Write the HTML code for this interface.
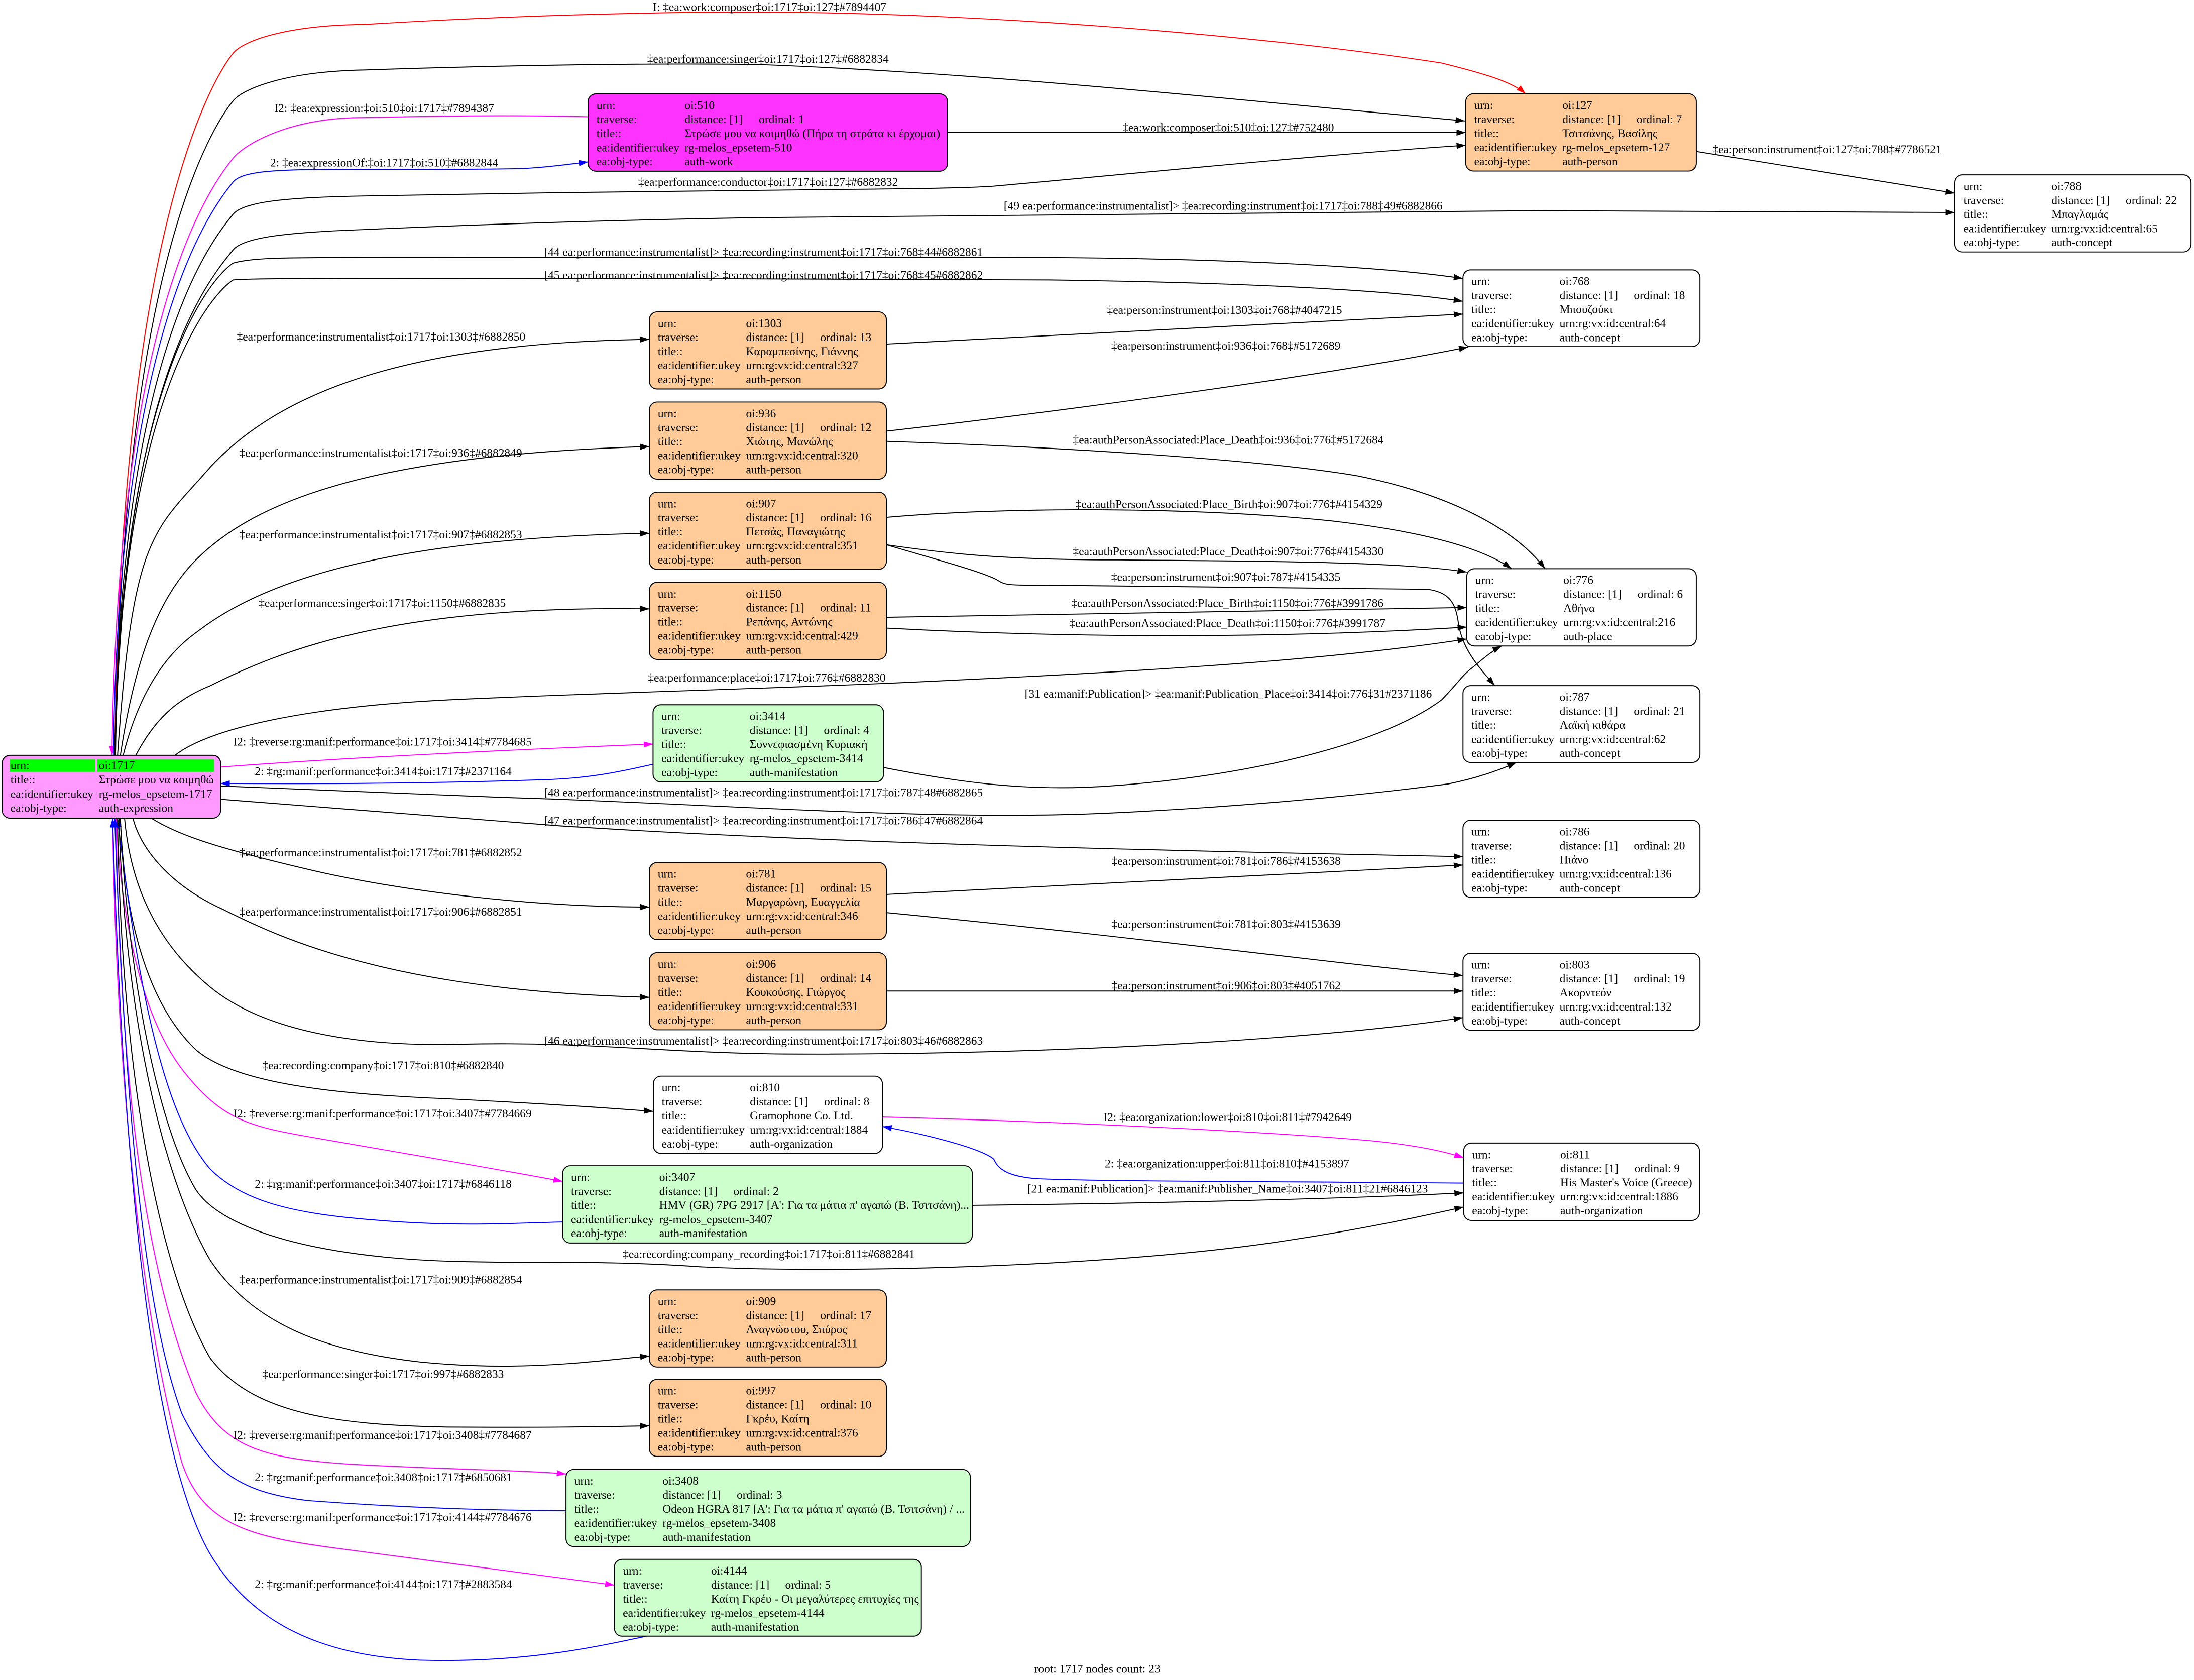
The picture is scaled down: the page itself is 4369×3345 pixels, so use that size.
<!DOCTYPE html>
<html><head><meta charset="utf-8"><style>
html,body{margin:0;padding:0;background:#fff;}
svg{display:block;}
text{font-family:"Liberation Serif","DejaVu Serif",serif;font-size:8.4px;fill:#000;}
.n rect.b{stroke:#000;stroke-width:0.7;}
path.e{fill:none;stroke-width:0.7;}
.k{stroke:#000}.r{stroke:#f00}.m{stroke:#f0f}.u{stroke:#00f}
</style></head><body>
<svg xmlns="http://www.w3.org/2000/svg" width="4369" height="3345" viewBox="0 0 1567.6 1200.2" preserveAspectRatio="none">
<defs>
<marker id="ak" markerUnits="userSpaceOnUse" markerWidth="7" markerHeight="5" viewBox="0 0 7 5" refX="6.6" refY="2.5" orient="auto"><path d="M0,0.3 L6.6,2.5 L0,4.7 z" fill="#000"/></marker>
<marker id="ar" markerUnits="userSpaceOnUse" markerWidth="7" markerHeight="5" viewBox="0 0 7 5" refX="6.6" refY="2.5" orient="auto"><path d="M0,0.3 L6.6,2.5 L0,4.7 z" fill="#f00"/></marker>
<marker id="am" markerUnits="userSpaceOnUse" markerWidth="7" markerHeight="5" viewBox="0 0 7 5" refX="6.6" refY="2.5" orient="auto"><path d="M0,0.3 L6.6,2.5 L0,4.7 z" fill="#f0f"/></marker>
<marker id="au" markerUnits="userSpaceOnUse" markerWidth="7" markerHeight="5" viewBox="0 0 7 5" refX="6.6" refY="2.5" orient="auto"><path d="M0,0.3 L6.6,2.5 L0,4.7 z" fill="#00f"/></marker>
</defs>
<rect x="0" y="0" width="1567.6" height="1200.2" fill="#fff"/>

<!-- ===== EDGES ===== -->
<path class="e r" marker-end="url(#ar)" d="M82,539.6 C86,163.4 152,56 166.6,38 C174,29 205,18 260,17.5 C350,12 450,8.6 540,8.6 C700,9 900,25 1030,45 C1058,52 1080,58 1090,67"/>
<path class="e k" marker-end="url(#ak)" d="M82.5,539.6 C86.5,188.9 152,90 166.6,72 C174,63 205,51 260,50 C350,47 450,45 540,46 C700,52 850,68 1046.6,86.4"/>
<path class="e m" marker-end="url(#am)" d="M420,83.4 C360,82 310,83 260,84 C205,84 174,104 166.6,113 C152,131 84,219.6 80,539.6"/>
<path class="e u" marker-end="url(#au)" d="M81,539.6 C85,232.4 152,148 166.6,130 C174,121 205,121 260,121 C320,121 370,121 380,120 C395,119 405,117.5 420.2,115.7"/>
<path class="e k" marker-end="url(#ak)" d="M82,539.6 C86,249.6 152,171 166.6,153 C174,144 205,141 260,140 C350,138 450,137 540,136 C620,135 680,135 710,133 C800,125 950,110 1047.3,103.8"/>
<path class="e k" marker-end="url(#ak)" d="M82.5,539.6 C86.5,268.8 152,196.5 166.6,178.5 C174,169.5 205,166 260,164 C350,160 450,157 540,155.5 C700,153 900,151 1100,150.5 C1250,150.5 1350,151.5 1396.8,151.8"/>
<path class="e k" marker-end="url(#ak)" d="M82,539.6 C86,280 148,200 166.6,188 C180,184 205,184 260,184 C400,184 600,183.5 750,184 C900,185 1000,192 1045.3,199"/>
<path class="e k" marker-end="url(#ak)" d="M82,539.6 C86,290 148,212 166.6,200 C180,199 205,199 260,199 C400,199 600,199 750,200 C900,202 1000,208 1045.3,215.3"/>
<path class="e k" marker-end="url(#ak)" d="M84,539.6 C95,380 110,380 150,334 C200,280 290,245 464,242.4"/>
<path class="e k" marker-end="url(#ak)" d="M86,539.6 C95,480 110,430 140,400 C180,360 260,325 464,319"/>
<path class="e k" marker-end="url(#ak)" d="M88,539.6 C98,500 115,470 140,452 C175,425 250,385 464,381"/>
<path class="e k" marker-end="url(#ak)" d="M97,539.6 C110,515 125,500 150,490 C200,465 280,432 464,435"/>
<path class="e k" marker-end="url(#ak)" d="M125,539.6 C150,520 220,505 320,500 C450,494 560,492 680,486 C850,478 960,470 1048,456.5"/>
<path class="e m" marker-end="url(#am)" d="M157.6,548 C250,541 380,535 466.6,531.6"/>
<path class="e u" marker-end="url(#au)" d="M466.6,546 C440,552 420,556 390,557 C300,560 220,560 157.6,559.7"/>
<path class="e k" marker-end="url(#ak)" d="M157.6,561.5 C280,566 330,569 400,571 C550,577 680,586 790,581 C900,576 990,566 1035,560 C1055,556 1072,550 1083.5,544.7"/>
<path class="e k" marker-end="url(#ak)" d="M157.6,571 C250,578 330,585 400,590 C600,603 850,608 1045.3,612"/>
<path class="e k" marker-end="url(#ak)" d="M108,584.5 C130,598 160,607 224,622 C290,637 380,648 464,648"/>
<path class="e k" marker-end="url(#ak)" d="M95,584.5 C100,605 120,632 160,650 C200,670 280,708 464,712.5"/>
<path class="e k" marker-end="url(#ak)" d="M89,584.5 C93,630 110,672 150,705 C190,738 260,748 330,746 C420,744 470,752 560,753 C750,754 950,742 1045.3,727"/>
<path class="e k" marker-end="url(#ak)" d="M86,584.5 C88,640 100,712 140,750 C170,776 250,782 320,785 C400,789 440,792 466.8,794"/>
<path class="e m" marker-end="url(#am)" d="M83,584.5 C86,650 100,730 135,770 C160,800 180,805 220,812 C300,826 360,836 402,844"/>
<path class="e u" marker-end="url(#au)" d="M402,873 C360,874 320,877 250,870 C200,865 170,855 150,835 C120,800 100,720 84,584.5"/>
<path class="e k" marker-end="url(#ak)" d="M86,584.5 C90,680 110,800 140,850 C160,880 230,898 320,901 C380,903 430,900 500,905 C600,910 800,905 921,886 C980,877 1020,868 1045.8,862.3"/>
<path class="e k" marker-end="url(#ak)" d="M85,584.5 C88,700 110,830 150,900 C180,945 230,965 300,973 C370,980 420,973 464,968.7"/>
<path class="e k" marker-end="url(#ak)" d="M84,584.5 C86,750 110,900 150,970 C180,1010 240,1018 320,1019.5 C400,1020 440,1019 464,1018.6"/>
<path class="e m" marker-end="url(#am)" d="M83,584.5 C85,750 100,900 140,995 C160,1035 190,1042 250,1046 C320,1050 370,1050 404.4,1053"/>
<path class="e u" marker-end="url(#au)" d="M404.4,1079.3 C360,1079 300,1078 220,1072 C170,1066 150,1050 130,1010 C100,930 88,760 82,584.5"/>
<path class="e m" marker-end="url(#am)" d="M80.5,584.5 C82,720 95,920 130,1045 C145,1090 180,1098 240,1106 C320,1117 390,1126 439,1132.4"/>
<path class="e u" marker-end="url(#au)" d="M461.4,1169 C420,1178 370,1188 300,1186 C230,1183 180,1160 150,1110 C110,1040 88,850 80.5,584.5"/>

<path class="e k" marker-end="url(#ak)" d="M677,94.7 L1047.3,94.7"/>
<path class="e k" marker-end="url(#ak)" d="M1212,108.2 L1396.8,138"/>
<path class="e k" marker-end="url(#ak)" d="M633.3,245.8 C760,240 900,231 1045.3,224.4"/>
<path class="e k" marker-end="url(#ak)" d="M633.3,308 C750,295 950,268 1049,247.9"/>
<path class="e k" marker-end="url(#ak)" d="M633.3,315.3 C750,319 900,328 970,340 C1030,352 1080,375 1104,406.3"/>
<path class="e k" marker-end="url(#ak)" d="M633.3,369.6 C720,362 850,362 950,372 C1020,380 1060,392 1080,406.3"/>
<path class="e k" marker-end="url(#ak)" d="M633.3,389.2 C680,396 720,400 800,400 C900,401 1000,401 1048,408.7"/>
<path class="e k" marker-end="url(#ak)" d="M633.3,389.2 C670,400 700,408 712,414 C718,418 720,418 740,418 L1020,421 C1035,423 1040,430 1042,445 C1045,465 1058,478 1068,489.8"/>
<path class="e k" marker-end="url(#ak)" d="M633.3,441 L1048,434"/>
<path class="e k" marker-end="url(#ak)" d="M633.3,448.7 C750,455 900,457 1048,448"/>
<path class="e k" marker-end="url(#ak)" d="M631.3,548.3 C690,560 740,566 800,561 C900,553 990,530 1030,500 C1040,490 1045,482 1052,477 C1058,472 1066,465 1073,461.5"/>
<path class="e k" marker-end="url(#ak)" d="M633.3,639 L1045.3,618"/>
<path class="e k" marker-end="url(#ak)" d="M633.3,652 C800,668 950,688 1045.3,697"/>
<path class="e k" marker-end="url(#ak)" d="M633.3,708 L1045.3,708"/>
<path class="e m" marker-end="url(#am)" d="M630.5,798 C750,801 900,808 980,815 C1010,818 1030,822 1045.8,827"/>
<path class="e u" marker-end="url(#au)" d="M1045.8,845.2 C900,844 780,844 740,842 C715,840 712,832 710,828 C700,820 660,810 630.5,804.8"/>
<path class="e k" marker-end="url(#ak)" d="M694.7,861.1 C800,860 950,857 1045.8,852.2"/>

<!-- ===== EDGE LABELS ===== -->
<g>
<text x="466.5" y="7.7">I: ‡ea:work:composer‡oi:1717‡oi:127‡#7894407</text>
<text x="462.4" y="44.8">‡ea:performance:singer‡oi:1717‡oi:127‡#6882834</text>
<text x="196" y="80.1">I2: ‡ea:expression:‡oi:510‡oi:1717‡#7894387</text>
<text x="193" y="118.9">2: ‡ea:expressionOf:‡oi:1717‡oi:510‡#6882844</text>
<text x="456" y="132.7">‡ea:performance:conductor‡oi:1717‡oi:127‡#6882832</text>
<text x="717.2" y="149.8">[49 ea:performance:instrumentalist]&gt; ‡ea:recording:instrument‡oi:1717‡oi:788‡49#6882866</text>
<text x="388.7" y="182.8">[44 ea:performance:instrumentalist]&gt; ‡ea:recording:instrument‡oi:1717‡oi:768‡44#6882861</text>
<text x="388.7" y="199.3">[45 ea:performance:instrumentalist]&gt; ‡ea:recording:instrument‡oi:1717‡oi:768‡45#6882862</text>
<text x="169.2" y="243.2">‡ea:performance:instrumentalist‡oi:1717‡oi:1303‡#6882850</text>
<text x="171" y="326.3">‡ea:performance:instrumentalist‡oi:1717‡oi:936‡#6882849</text>
<text x="171" y="384.6">‡ea:performance:instrumentalist‡oi:1717‡oi:907‡#6882853</text>
<text x="184.9" y="433.7">‡ea:performance:singer‡oi:1717‡oi:1150‡#6882835</text>
<text x="463" y="486.9">‡ea:performance:place‡oi:1717‡oi:776‡#6882830</text>
<text x="166.6" y="532.6">I2: ‡reverse:rg:manif:performance‡oi:1717‡oi:3414‡#7784685</text>
<text x="182" y="553.9">2: ‡rg:manif:performance‡oi:3414‡oi:1717‡#2371164</text>
<text x="388.7" y="568.9">[48 ea:performance:instrumentalist]&gt; ‡ea:recording:instrument‡oi:1717‡oi:787‡48#6882865</text>
<text x="388.7" y="588.9">[47 ea:performance:instrumentalist]&gt; ‡ea:recording:instrument‡oi:1717‡oi:786‡47#6882864</text>
<text x="171" y="611.7">‡ea:performance:instrumentalist‡oi:1717‡oi:781‡#6882852</text>
<text x="171" y="654.1">‡ea:performance:instrumentalist‡oi:1717‡oi:906‡#6882851</text>
<text x="388.7" y="746.3">[46 ea:performance:instrumentalist]&gt; ‡ea:recording:instrument‡oi:1717‡oi:803‡46#6882863</text>
<text x="187.4" y="763.9">‡ea:recording:company‡oi:1717‡oi:810‡#6882840</text>
<text x="166.6" y="798.3">I2: ‡reverse:rg:manif:performance‡oi:1717‡oi:3407‡#7784669</text>
<text x="182" y="848.6">2: ‡rg:manif:performance‡oi:3407‡oi:1717‡#6846118</text>
<text x="445" y="898.7">‡ea:recording:company_recording‡oi:1717‡oi:811‡#6882841</text>
<text x="171" y="916.9">‡ea:performance:instrumentalist‡oi:1717‡oi:909‡#6882854</text>
<text x="187.4" y="984.4">‡ea:performance:singer‡oi:1717‡oi:997‡#6882833</text>
<text x="166.6" y="1027.9">I2: ‡reverse:rg:manif:performance‡oi:1717‡oi:3408‡#7784687</text>
<text x="182" y="1058.2">2: ‡rg:manif:performance‡oi:3408‡oi:1717‡#6850681</text>
<text x="166.6" y="1086.6">I2: ‡reverse:rg:manif:performance‡oi:1717‡oi:4144‡#7784676</text>
<text x="182" y="1134.5">2: ‡rg:manif:performance‡oi:4144‡oi:1717‡#2883584</text>

<text x="802" y="93.8">‡ea:work:composer‡oi:510‡oi:127‡#752480</text>
<text x="1223.6" y="109.4">‡ea:person:instrument‡oi:127‡oi:788‡#7786521</text>
<text x="791" y="224.3">‡ea:person:instrument‡oi:1303‡oi:768‡#4047215</text>
<text x="794" y="249.7">‡ea:person:instrument‡oi:936‡oi:768‡#5172689</text>
<text x="766.6" y="317">‡ea:authPersonAssociated:Place_Death‡oi:936‡oi:776‡#5172684</text>
<text x="768.5" y="362.9">‡ea:authPersonAssociated:Place_Birth‡oi:907‡oi:776‡#4154329</text>
<text x="766.6" y="396.7">‡ea:authPersonAssociated:Place_Death‡oi:907‡oi:776‡#4154330</text>
<text x="794" y="414.9">‡ea:person:instrument‡oi:907‡oi:787‡#4154335</text>
<text x="765.4" y="433.7">‡ea:authPersonAssociated:Place_Birth‡oi:1150‡oi:776‡#3991786</text>
<text x="764" y="447.9">‡ea:authPersonAssociated:Place_Death‡oi:1150‡oi:776‡#3991787</text>
<text x="732.2" y="498.3">[31 ea:manif:Publication]&gt; ‡ea:manif:Publication_Place‡oi:3414‡oi:776‡31#2371186</text>
<text x="794.2" y="617.9">‡ea:person:instrument‡oi:781‡oi:786‡#4153638</text>
<text x="794.2" y="662.9">‡ea:person:instrument‡oi:781‡oi:803‡#4153639</text>
<text x="794.2" y="706.9">‡ea:person:instrument‡oi:906‡oi:803‡#4051762</text>
<text x="788.4" y="800.9">I2: ‡ea:organization:lower‡oi:810‡oi:811‡#7942649</text>
<text x="789.4" y="834.1">2: ‡ea:organization:upper‡oi:811‡oi:810‡#4153897</text>
<text x="734" y="851.9">[21 ea:manif:Publication]&gt; ‡ea:manif:Publisher_Name‡oi:3407‡oi:811‡21#6846123</text>
</g>

<!-- ===== NODES ===== -->
<g class="n" transform="translate(1.6,539.6)">
<rect class="b" x="0" y="0" width="156" height="44.9" rx="5.5" fill="#ff99ff"/>
<rect x="5.2" y="3" width="61.2" height="8.8" fill="#00ff00"/>
<rect x="67.7" y="3" width="83.7" height="8.8" fill="#00ff00"/>
<text x="5.9" y="9.9">urn:</text><text x="69" y="9.9">oi:1717</text>
<text x="5.9" y="20.1">title::</text><text x="69" y="20.1">Στρώσε μου να κοιμηθώ</text>
<text x="5.9" y="30.3">ea:identifier:ukey</text><text x="69" y="30.3">rg-melos_epsetem-1717</text>
<text x="5.9" y="40.4">ea:obj-type:</text><text x="69" y="40.4">auth-expression</text>
</g>

<g class="n" transform="translate(420.2,67.1)">
<rect class="b" x="0" y="0" width="256.8" height="55.2" rx="5.5" fill="#ff33ff"/>
<text x="6" y="10.9">urn:</text><text x="69" y="10.9">oi:510</text>
<text x="6" y="20.9">traverse:</text><text x="69" y="20.9">distance: [1]</text><text x="122" y="20.9">ordinal: 1</text>
<text x="6" y="30.9">title::</text><text x="69" y="30.9">Στρώσε μου να κοιμηθώ (Πήρα τη στράτα κι έρχομαι)</text>
<text x="6" y="41">ea:identifier:ukey</text><text x="69" y="41">rg-melos_epsetem-510</text>
<text x="6" y="51">ea:obj-type:</text><text x="69" y="51">auth-work</text>
</g>

<g class="n" transform="translate(1047.3,67)">
<rect class="b" x="0" y="0" width="164.7" height="55.2" rx="5.5" fill="#ffcc99"/>
<text x="6" y="10.9">urn:</text><text x="69" y="10.9">oi:127</text>
<text x="6" y="20.9">traverse:</text><text x="69" y="20.9">distance: [1]</text><text x="122" y="20.9">ordinal: 7</text>
<text x="6" y="30.9">title::</text><text x="69" y="30.9">Τσιτσάνης, Βασίλης</text>
<text x="6" y="41">ea:identifier:ukey</text><text x="69" y="41">rg-melos_epsetem-127</text>
<text x="6" y="51">ea:obj-type:</text><text x="69" y="51">auth-person</text>
</g>

<g class="n" transform="translate(1396.8,124.9)">
<rect class="b" x="0" y="0" width="168.7" height="55.1" rx="5.5" fill="#ffffff"/>
<text x="6" y="10.9">urn:</text><text x="69" y="10.9">oi:788</text>
<text x="6" y="20.9">traverse:</text><text x="69" y="20.9">distance: [1]</text><text x="122" y="20.9">ordinal: 22</text>
<text x="6" y="30.9">title::</text><text x="69" y="30.9">Μπαγλαμάς</text>
<text x="6" y="41">ea:identifier:ukey</text><text x="69" y="41">urn:rg:vx:id:central:65</text>
<text x="6" y="51">ea:obj-type:</text><text x="69" y="51">auth-concept</text>
</g>

<g class="n" transform="translate(1045.3,192.8)">
<rect class="b" x="0" y="0" width="169.3" height="54.8" rx="5.5" fill="#ffffff"/>
<text x="6" y="10.9">urn:</text><text x="69" y="10.9">oi:768</text>
<text x="6" y="20.9">traverse:</text><text x="69" y="20.9">distance: [1]</text><text x="122" y="20.9">ordinal: 18</text>
<text x="6" y="30.9">title::</text><text x="69" y="30.9">Μπουζούκι</text>
<text x="6" y="41">ea:identifier:ukey</text><text x="69" y="41">urn:rg:vx:id:central:64</text>
<text x="6" y="51">ea:obj-type:</text><text x="69" y="51">auth-concept</text>
</g>

<g class="n" transform="translate(464,222.8)">
<rect class="b" x="0" y="0" width="169.3" height="55.1" rx="5.5" fill="#ffcc99"/>
<text x="6" y="10.9">urn:</text><text x="69" y="10.9">oi:1303</text>
<text x="6" y="20.9">traverse:</text><text x="69" y="20.9">distance: [1]</text><text x="122" y="20.9">ordinal: 13</text>
<text x="6" y="30.9">title::</text><text x="69" y="30.9">Καραμπεσίνης, Γιάννης</text>
<text x="6" y="41">ea:identifier:ukey</text><text x="69" y="41">urn:rg:vx:id:central:327</text>
<text x="6" y="51">ea:obj-type:</text><text x="69" y="51">auth-person</text>
</g>

<g class="n" transform="translate(464,287.2)">
<rect class="b" x="0" y="0" width="169.3" height="55.1" rx="5.5" fill="#ffcc99"/>
<text x="6" y="10.9">urn:</text><text x="69" y="10.9">oi:936</text>
<text x="6" y="20.9">traverse:</text><text x="69" y="20.9">distance: [1]</text><text x="122" y="20.9">ordinal: 12</text>
<text x="6" y="30.9">title::</text><text x="69" y="30.9">Χιώτης, Μανώλης</text>
<text x="6" y="41">ea:identifier:ukey</text><text x="69" y="41">urn:rg:vx:id:central:320</text>
<text x="6" y="51">ea:obj-type:</text><text x="69" y="51">auth-person</text>
</g>

<g class="n" transform="translate(464,351.6)">
<rect class="b" x="0" y="0" width="169.3" height="55.1" rx="5.5" fill="#ffcc99"/>
<text x="6" y="10.9">urn:</text><text x="69" y="10.9">oi:907</text>
<text x="6" y="20.9">traverse:</text><text x="69" y="20.9">distance: [1]</text><text x="122" y="20.9">ordinal: 16</text>
<text x="6" y="30.9">title::</text><text x="69" y="30.9">Πετσάς, Παναγιώτης</text>
<text x="6" y="41">ea:identifier:ukey</text><text x="69" y="41">urn:rg:vx:id:central:351</text>
<text x="6" y="51">ea:obj-type:</text><text x="69" y="51">auth-person</text>
</g>

<g class="n" transform="translate(464,416)">
<rect class="b" x="0" y="0" width="169.3" height="55.1" rx="5.5" fill="#ffcc99"/>
<text x="6" y="10.9">urn:</text><text x="69" y="10.9">oi:1150</text>
<text x="6" y="20.9">traverse:</text><text x="69" y="20.9">distance: [1]</text><text x="122" y="20.9">ordinal: 11</text>
<text x="6" y="30.9">title::</text><text x="69" y="30.9">Ρεπάνης, Αντώνης</text>
<text x="6" y="41">ea:identifier:ukey</text><text x="69" y="41">urn:rg:vx:id:central:429</text>
<text x="6" y="51">ea:obj-type:</text><text x="69" y="51">auth-person</text>
</g>

<g class="n" transform="translate(1048,406.3)">
<rect class="b" x="0" y="0" width="164" height="55.2" rx="5.5" fill="#ffffff"/>
<text x="6" y="10.9">urn:</text><text x="69" y="10.9">oi:776</text>
<text x="6" y="20.9">traverse:</text><text x="69" y="20.9">distance: [1]</text><text x="122" y="20.9">ordinal: 6</text>
<text x="6" y="30.9">title::</text><text x="69" y="30.9">Αθήνα</text>
<text x="6" y="41">ea:identifier:ukey</text><text x="69" y="41">urn:rg:vx:id:central:216</text>
<text x="6" y="51">ea:obj-type:</text><text x="69" y="51">auth-place</text>
</g>

<g class="n" transform="translate(466.6,503.5)">
<rect class="b" x="0" y="0" width="164.7" height="55.1" rx="5.5" fill="#ccffcc"/>
<text x="6" y="10.9">urn:</text><text x="69" y="10.9">oi:3414</text>
<text x="6" y="20.9">traverse:</text><text x="69" y="20.9">distance: [1]</text><text x="122" y="20.9">ordinal: 4</text>
<text x="6" y="30.9">title::</text><text x="69" y="30.9">Συννεφιασμένη Κυριακή</text>
<text x="6" y="41">ea:identifier:ukey</text><text x="69" y="41">rg-melos_epsetem-3414</text>
<text x="6" y="51">ea:obj-type:</text><text x="69" y="51">auth-manifestation</text>
</g>

<g class="n" transform="translate(1045.3,489.8)">
<rect class="b" x="0" y="0" width="169.3" height="54.9" rx="5.5" fill="#ffffff"/>
<text x="6" y="10.9">urn:</text><text x="69" y="10.9">oi:787</text>
<text x="6" y="20.9">traverse:</text><text x="69" y="20.9">distance: [1]</text><text x="122" y="20.9">ordinal: 21</text>
<text x="6" y="30.9">title::</text><text x="69" y="30.9">Λαϊκή κιθάρα</text>
<text x="6" y="41">ea:identifier:ukey</text><text x="69" y="41">urn:rg:vx:id:central:62</text>
<text x="6" y="51">ea:obj-type:</text><text x="69" y="51">auth-concept</text>
</g>

<g class="n" transform="translate(1045.3,586)">
<rect class="b" x="0" y="0" width="169.3" height="55" rx="5.5" fill="#ffffff"/>
<text x="6" y="10.9">urn:</text><text x="69" y="10.9">oi:786</text>
<text x="6" y="20.9">traverse:</text><text x="69" y="20.9">distance: [1]</text><text x="122" y="20.9">ordinal: 20</text>
<text x="6" y="30.9">title::</text><text x="69" y="30.9">Πιάνο</text>
<text x="6" y="41">ea:identifier:ukey</text><text x="69" y="41">urn:rg:vx:id:central:136</text>
<text x="6" y="51">ea:obj-type:</text><text x="69" y="51">auth-concept</text>
</g>

<g class="n" transform="translate(464,616.2)">
<rect class="b" x="0" y="0" width="169.3" height="55.1" rx="5.5" fill="#ffcc99"/>
<text x="6" y="10.9">urn:</text><text x="69" y="10.9">oi:781</text>
<text x="6" y="20.9">traverse:</text><text x="69" y="20.9">distance: [1]</text><text x="122" y="20.9">ordinal: 15</text>
<text x="6" y="30.9">title::</text><text x="69" y="30.9">Μαργαρώνη, Ευαγγελία</text>
<text x="6" y="41">ea:identifier:ukey</text><text x="69" y="41">urn:rg:vx:id:central:346</text>
<text x="6" y="51">ea:obj-type:</text><text x="69" y="51">auth-person</text>
</g>

<g class="n" transform="translate(464,680.6)">
<rect class="b" x="0" y="0" width="169.3" height="55.1" rx="5.5" fill="#ffcc99"/>
<text x="6" y="10.9">urn:</text><text x="69" y="10.9">oi:906</text>
<text x="6" y="20.9">traverse:</text><text x="69" y="20.9">distance: [1]</text><text x="122" y="20.9">ordinal: 14</text>
<text x="6" y="30.9">title::</text><text x="69" y="30.9">Κουκούσης, Γιώργος</text>
<text x="6" y="41">ea:identifier:ukey</text><text x="69" y="41">urn:rg:vx:id:central:331</text>
<text x="6" y="51">ea:obj-type:</text><text x="69" y="51">auth-person</text>
</g>

<g class="n" transform="translate(1045.3,681)">
<rect class="b" x="0" y="0" width="169.3" height="55" rx="5.5" fill="#ffffff"/>
<text x="6" y="10.9">urn:</text><text x="69" y="10.9">oi:803</text>
<text x="6" y="20.9">traverse:</text><text x="69" y="20.9">distance: [1]</text><text x="122" y="20.9">ordinal: 19</text>
<text x="6" y="30.9">title::</text><text x="69" y="30.9">Ακορντεόν</text>
<text x="6" y="41">ea:identifier:ukey</text><text x="69" y="41">urn:rg:vx:id:central:132</text>
<text x="6" y="51">ea:obj-type:</text><text x="69" y="51">auth-concept</text>
</g>

<g class="n" transform="translate(466.8,768.8)">
<rect class="b" x="0" y="0" width="163.7" height="55.2" rx="5.5" fill="#ffffff"/>
<text x="6" y="10.9">urn:</text><text x="69" y="10.9">oi:810</text>
<text x="6" y="20.9">traverse:</text><text x="69" y="20.9">distance: [1]</text><text x="122" y="20.9">ordinal: 8</text>
<text x="6" y="30.9">title::</text><text x="69" y="30.9">Gramophone Co. Ltd.</text>
<text x="6" y="41">ea:identifier:ukey</text><text x="69" y="41">urn:rg:vx:id:central:1884</text>
<text x="6" y="51">ea:obj-type:</text><text x="69" y="51">auth-organization</text>
</g>

<g class="n" transform="translate(1045.8,816.6)">
<rect class="b" x="0" y="0" width="168.4" height="55.3" rx="5.5" fill="#ffffff"/>
<text x="6" y="10.9">urn:</text><text x="69" y="10.9">oi:811</text>
<text x="6" y="20.9">traverse:</text><text x="69" y="20.9">distance: [1]</text><text x="122" y="20.9">ordinal: 9</text>
<text x="6" y="30.9">title::</text><text x="69" y="30.9">His Master's Voice (Greece)</text>
<text x="6" y="41">ea:identifier:ukey</text><text x="69" y="41">urn:rg:vx:id:central:1886</text>
<text x="6" y="51">ea:obj-type:</text><text x="69" y="51">auth-organization</text>
</g>

<g class="n" transform="translate(402,832.8)">
<rect class="b" x="0" y="0" width="292.7" height="55.2" rx="5.5" fill="#ccffcc"/>
<text x="6" y="10.9">urn:</text><text x="69" y="10.9">oi:3407</text>
<text x="6" y="20.9">traverse:</text><text x="69" y="20.9">distance: [1]</text><text x="122" y="20.9">ordinal: 2</text>
<text x="6" y="30.9">title::</text><text x="69" y="30.9">HMV (GR) 7PG 2917 [Α': Για τα μάτια π' αγαπώ (Β. Τσιτσάνη)...</text>
<text x="6" y="41">ea:identifier:ukey</text><text x="69" y="41">rg-melos_epsetem-3407</text>
<text x="6" y="51">ea:obj-type:</text><text x="69" y="51">auth-manifestation</text>
</g>

<g class="n" transform="translate(464,921.5)">
<rect class="b" x="0" y="0" width="169.3" height="55.1" rx="5.5" fill="#ffcc99"/>
<text x="6" y="10.9">urn:</text><text x="69" y="10.9">oi:909</text>
<text x="6" y="20.9">traverse:</text><text x="69" y="20.9">distance: [1]</text><text x="122" y="20.9">ordinal: 17</text>
<text x="6" y="30.9">title::</text><text x="69" y="30.9">Αναγνώστου, Σπύρος</text>
<text x="6" y="41">ea:identifier:ukey</text><text x="69" y="41">urn:rg:vx:id:central:311</text>
<text x="6" y="51">ea:obj-type:</text><text x="69" y="51">auth-person</text>
</g>

<g class="n" transform="translate(464,985.4)">
<rect class="b" x="0" y="0" width="169.3" height="55.1" rx="5.5" fill="#ffcc99"/>
<text x="6" y="10.9">urn:</text><text x="69" y="10.9">oi:997</text>
<text x="6" y="20.9">traverse:</text><text x="69" y="20.9">distance: [1]</text><text x="122" y="20.9">ordinal: 10</text>
<text x="6" y="30.9">title::</text><text x="69" y="30.9">Γκρέυ, Καίτη</text>
<text x="6" y="41">ea:identifier:ukey</text><text x="69" y="41">urn:rg:vx:id:central:376</text>
<text x="6" y="51">ea:obj-type:</text><text x="69" y="51">auth-person</text>
</g>

<g class="n" transform="translate(404.4,1049.8)">
<rect class="b" x="0" y="0" width="288.9" height="55" rx="5.5" fill="#ccffcc"/>
<text x="6" y="10.9">urn:</text><text x="69" y="10.9">oi:3408</text>
<text x="6" y="20.9">traverse:</text><text x="69" y="20.9">distance: [1]</text><text x="122" y="20.9">ordinal: 3</text>
<text x="6" y="30.9">title::</text><text x="69" y="30.9">Odeon HGRA 817 [Α': Για τα μάτια π' αγαπώ (Β. Τσιτσάνη) / ...</text>
<text x="6" y="41">ea:identifier:ukey</text><text x="69" y="41">rg-melos_epsetem-3408</text>
<text x="6" y="51">ea:obj-type:</text><text x="69" y="51">auth-manifestation</text>
</g>

<g class="n" transform="translate(439,1114)">
<rect class="b" x="0" y="0" width="219.3" height="54.9" rx="5.5" fill="#ccffcc"/>
<text x="6" y="10.9">urn:</text><text x="69" y="10.9">oi:4144</text>
<text x="6" y="20.9">traverse:</text><text x="69" y="20.9">distance: [1]</text><text x="122" y="20.9">ordinal: 5</text>
<text x="6" y="30.9">title::</text><text x="69" y="30.9">Καίτη Γκρέυ - Οι μεγαλύτερες επιτυχίες της</text>
<text x="6" y="41">ea:identifier:ukey</text><text x="69" y="41">rg-melos_epsetem-4144</text>
<text x="6" y="51">ea:obj-type:</text><text x="69" y="51">auth-manifestation</text>
</g>

<text x="784" y="1195" text-anchor="middle">root: 1717 nodes count: 23</text>
</svg>
</body></html>
